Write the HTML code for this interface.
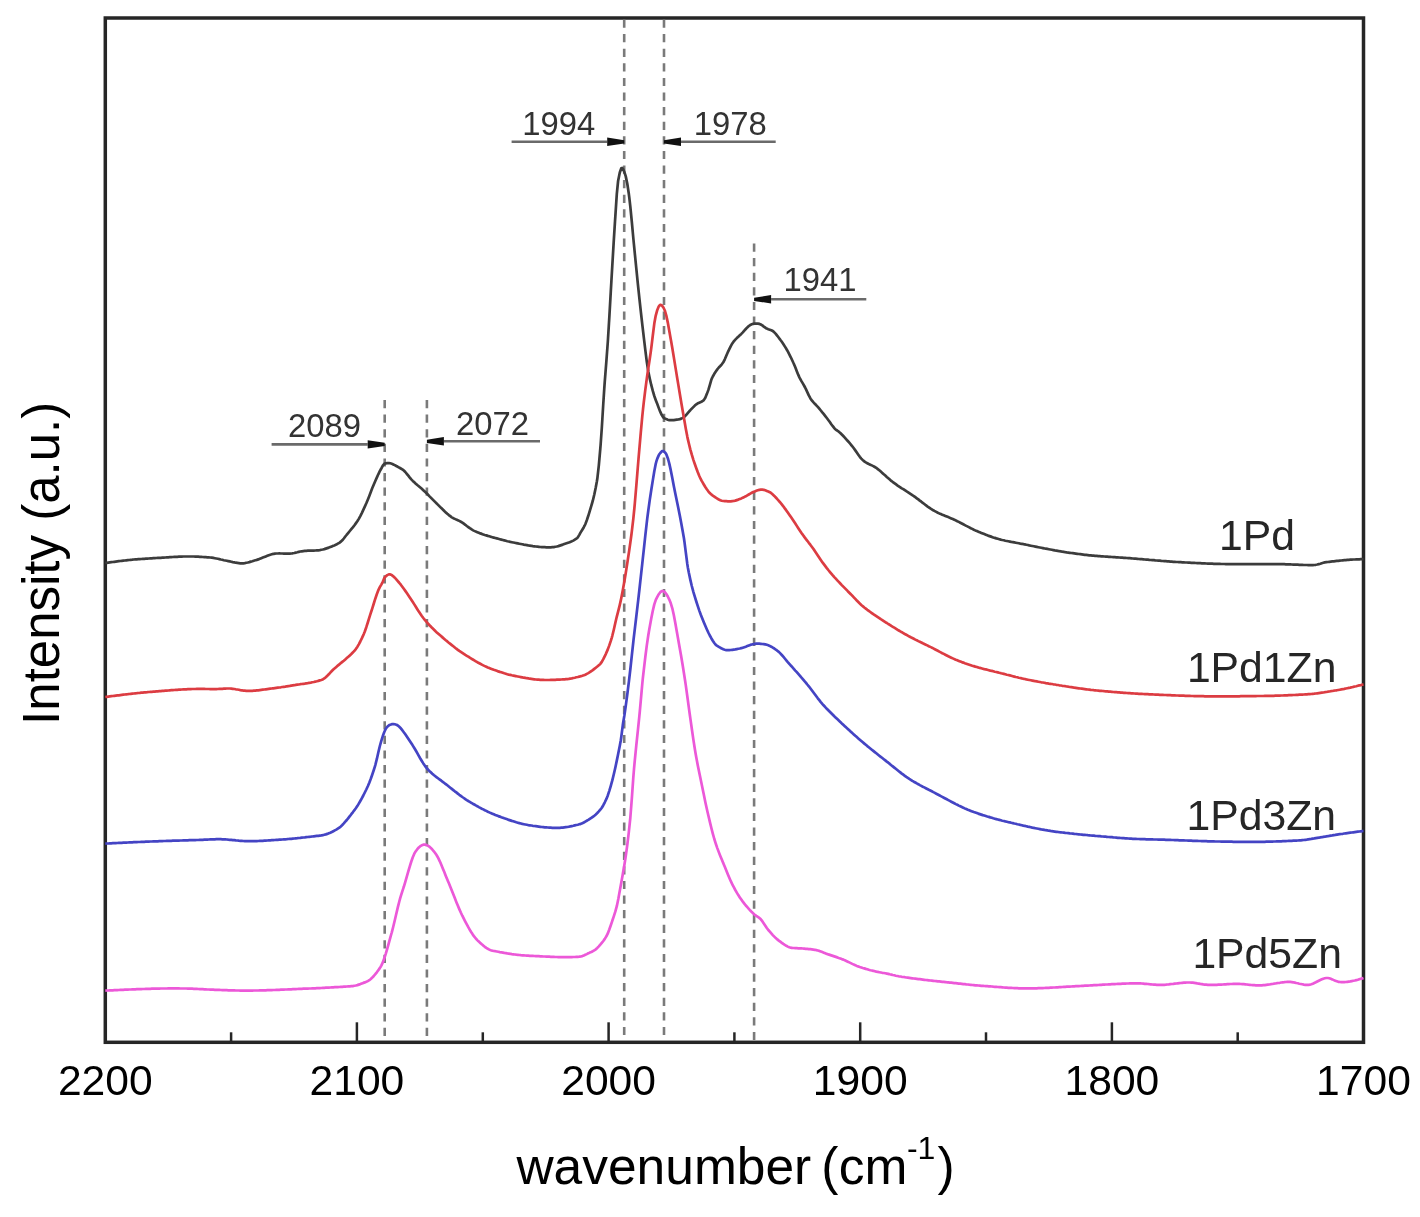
<!DOCTYPE html>
<html><head><meta charset="utf-8"><title>IR spectra</title>
<style>html,body{margin:0;padding:0;background:#fff;} svg{display:block;}</style></head>
<body>
<svg width="1420" height="1217" viewBox="0 0 1420 1217">
<rect width="1420" height="1217" fill="#fff"/>
<rect x="105.3" y="18" width="1258.2" height="1024.3" fill="none" stroke="#262626" stroke-width="3.5"/>
<line x1="105.3" y1="1022.3" x2="105.3" y2="1042.3" stroke="#262626" stroke-width="2.5"/>
<line x1="231.1" y1="1032.3" x2="231.1" y2="1042.3" stroke="#262626" stroke-width="2.5"/>
<line x1="356.9" y1="1022.3" x2="356.9" y2="1042.3" stroke="#262626" stroke-width="2.5"/>
<line x1="482.8" y1="1032.3" x2="482.8" y2="1042.3" stroke="#262626" stroke-width="2.5"/>
<line x1="608.6" y1="1022.3" x2="608.6" y2="1042.3" stroke="#262626" stroke-width="2.5"/>
<line x1="734.4" y1="1032.3" x2="734.4" y2="1042.3" stroke="#262626" stroke-width="2.5"/>
<line x1="860.2" y1="1022.3" x2="860.2" y2="1042.3" stroke="#262626" stroke-width="2.5"/>
<line x1="986.0" y1="1032.3" x2="986.0" y2="1042.3" stroke="#262626" stroke-width="2.5"/>
<line x1="1111.9" y1="1022.3" x2="1111.9" y2="1042.3" stroke="#262626" stroke-width="2.5"/>
<line x1="1237.7" y1="1032.3" x2="1237.7" y2="1042.3" stroke="#262626" stroke-width="2.5"/>
<line x1="1363.5" y1="1022.3" x2="1363.5" y2="1042.3" stroke="#262626" stroke-width="2.5"/>
<text x="105.3" y="1095.2" text-anchor="middle" font-size="42.6" font-family="'Liberation Sans', Arial, sans-serif" fill="#000">2200</text>
<text x="356.9" y="1095.2" text-anchor="middle" font-size="42.6" font-family="'Liberation Sans', Arial, sans-serif" fill="#000">2100</text>
<text x="608.6" y="1095.2" text-anchor="middle" font-size="42.6" font-family="'Liberation Sans', Arial, sans-serif" fill="#000">2000</text>
<text x="860.2" y="1095.2" text-anchor="middle" font-size="42.6" font-family="'Liberation Sans', Arial, sans-serif" fill="#000">1900</text>
<text x="1111.9" y="1095.2" text-anchor="middle" font-size="42.6" font-family="'Liberation Sans', Arial, sans-serif" fill="#000">1800</text>
<text x="1363.5" y="1095.2" text-anchor="middle" font-size="42.6" font-family="'Liberation Sans', Arial, sans-serif" fill="#000">1700</text>
<line x1="384.7" y1="400" x2="384.7" y2="1041" stroke="#7a7a7a" stroke-width="2.6" stroke-dasharray="8.2 6.4"/>
<line x1="426.9" y1="400" x2="426.9" y2="1041" stroke="#7a7a7a" stroke-width="2.6" stroke-dasharray="8.2 6.4"/>
<line x1="624.2" y1="19.5" x2="624.2" y2="1041" stroke="#7a7a7a" stroke-width="2.6" stroke-dasharray="8.2 6.4"/>
<line x1="664.0" y1="19.5" x2="664.0" y2="1041" stroke="#7a7a7a" stroke-width="2.6" stroke-dasharray="8.2 6.4"/>
<line x1="754.1" y1="243.5" x2="754.1" y2="1041" stroke="#7a7a7a" stroke-width="2.6" stroke-dasharray="8.2 6.4"/>
<path d="M105.3 563.0 L106.8 562.8 L108.3 562.6 L109.8 562.4 L111.3 562.2 L112.8 562.0 L114.3 561.8 L115.8 561.6 L117.3 561.4 L118.8 561.2 L120.3 561.0 L121.8 560.8 L123.3 560.6 L124.8 560.5 L126.3 560.3 L127.8 560.1 L129.3 560.0 L130.8 559.8 L132.3 559.7 L133.8 559.5 L135.3 559.4 L136.6 559.3 L136.8 559.3 L138.3 559.2 L139.8 559.1 L141.3 559.0 L142.8 558.9 L144.3 558.8 L145.8 558.7 L147.3 558.6 L148.8 558.5 L150.3 558.4 L151.8 558.3 L153.3 558.2 L154.8 558.1 L156.3 558.0 L157.8 557.9 L159.3 557.8 L160.0 557.8 L160.8 557.8 L162.3 557.7 L163.8 557.6 L165.3 557.5 L166.8 557.4 L168.3 557.3 L169.8 557.2 L171.3 557.1 L172.8 557.0 L174.3 556.9 L175.8 556.8 L177.3 556.8 L178.8 556.7 L180.3 556.6 L180.6 556.6 L181.8 556.6 L183.3 556.5 L184.8 556.5 L186.3 556.5 L187.8 556.5 L189.3 556.5 L190.8 556.5 L192.3 556.5 L193.8 556.5 L195.3 556.6 L196.8 556.6 L198.3 556.7 L199.8 556.8 L201.3 556.9 L202.8 557.0 L204.3 557.1 L205.8 557.2 L207.3 557.3 L208.8 557.4 L209.9 557.5 L210.3 557.5 L211.8 557.7 L213.3 557.9 L214.8 558.2 L216.3 558.5 L217.8 558.8 L219.3 559.1 L220.8 559.5 L222.3 559.8 L223.8 560.2 L225.3 560.5 L226.8 560.8 L228.2 561.1 L228.3 561.1 L229.8 561.4 L231.3 561.7 L232.8 562.1 L234.3 562.4 L235.8 562.7 L237.3 562.9 L238.8 563.1 L240.3 563.3 L241.0 563.3 L241.8 563.3 L243.3 563.3 L244.8 563.1 L246.3 562.8 L247.8 562.5 L249.3 562.1 L250.8 561.6 L252.3 561.2 L253.8 560.7 L255.3 560.3 L255.7 560.2 L256.8 559.9 L258.3 559.4 L259.8 558.8 L261.3 558.2 L262.8 557.6 L264.3 557.0 L265.8 556.4 L267.3 555.8 L268.8 555.2 L270.3 554.7 L271.8 554.3 L273.3 553.9 L274.0 553.8 L274.8 553.7 L276.3 553.5 L277.8 553.5 L279.3 553.4 L280.8 553.5 L282.3 553.5 L283.8 553.6 L285.3 553.7 L286.8 553.7 L288.3 553.7 L289.8 553.7 L291.3 553.5 L292.3 553.4 L292.8 553.3 L294.3 553.0 L295.8 552.6 L297.3 552.3 L298.8 551.9 L300.3 551.5 L301.5 551.3 L301.8 551.3 L303.3 551.1 L304.8 550.9 L306.3 550.8 L307.8 550.7 L309.3 550.7 L310.8 550.7 L312.3 550.6 L313.8 550.6 L315.3 550.5 L316.8 550.4 L318.3 550.3 L319.8 550.1 L321.3 549.8 L322.8 549.5 L324.3 549.1 L325.8 548.6 L327.3 548.1 L328.8 547.6 L330.3 547.0 L331.8 546.4 L333.3 545.8 L334.4 545.4 L334.8 545.2 L336.3 544.6 L337.8 543.7 L339.3 542.8 L340.8 541.7 L341.0 541.5 L342.3 540.3 L343.8 538.5 L345.3 536.5 L346.5 535.0 L346.8 534.6 L348.3 532.8 L349.8 531.0 L351.3 529.2 L352.8 527.4 L354.3 525.5 L355.8 523.4 L357.3 521.3 L357.6 520.8 L358.8 518.9 L360.3 516.1 L361.8 513.1 L363.3 509.9 L364.8 506.6 L366.2 503.5 L366.3 503.3 L367.8 499.7 L369.3 495.9 L370.8 492.0 L372.3 488.1 L373.6 485.0 L373.8 484.5 L375.3 481.0 L376.8 477.6 L378.3 474.3 L379.8 471.2 L381.0 469.0 L381.3 468.5 L382.8 465.7 L384.3 463.8 L384.7 463.6 L385.8 463.3 L387.3 463.1 L388.8 463.0 L390.3 463.3 L391.8 463.7 L392.0 463.8 L393.3 464.4 L394.8 465.1 L396.3 466.0 L397.8 466.8 L399.3 467.7 L399.5 467.8 L400.8 468.5 L402.3 469.4 L403.4 470.2 L403.8 470.5 L405.3 472.0 L406.8 473.8 L408.3 475.7 L409.8 477.6 L411.3 479.4 L412.0 480.1 L412.8 480.9 L414.3 482.3 L415.8 483.7 L417.3 485.0 L418.8 486.2 L420.3 487.5 L421.8 488.8 L423.3 490.2 L424.4 491.2 L424.8 491.6 L426.3 493.0 L427.8 494.5 L429.3 496.1 L430.8 497.6 L432.3 499.1 L433.8 500.6 L435.3 502.1 L436.7 503.5 L436.8 503.6 L438.3 505.1 L439.8 506.6 L441.3 508.1 L442.8 509.5 L444.3 511.0 L445.8 512.4 L447.3 513.8 L448.8 515.1 L450.3 516.2 L451.5 517.1 L451.8 517.3 L453.3 518.2 L454.8 518.9 L456.3 519.6 L457.8 520.2 L459.3 520.9 L460.8 521.7 L461.3 522.0 L462.3 522.6 L463.8 523.7 L465.3 524.8 L466.8 526.0 L468.3 527.1 L469.8 528.2 L471.3 529.2 L472.8 530.1 L473.7 530.6 L474.3 530.9 L475.8 531.6 L477.3 532.2 L478.8 532.8 L480.3 533.4 L481.8 533.9 L483.3 534.5 L484.8 535.0 L486.3 535.4 L487.8 535.9 L489.3 536.3 L490.8 536.8 L490.9 536.8 L492.3 537.2 L493.8 537.6 L495.3 538.0 L496.8 538.4 L498.3 538.8 L499.8 539.2 L501.3 539.6 L502.8 540.0 L504.3 540.4 L505.8 540.8 L507.3 541.2 L508.8 541.5 L510.3 541.9 L511.8 542.2 L513.3 542.5 L514.8 542.8 L515.6 543.0 L516.3 543.1 L517.8 543.4 L519.3 543.7 L520.8 544.0 L522.3 544.3 L523.8 544.6 L525.3 544.8 L526.8 545.1 L528.3 545.4 L529.8 545.6 L531.3 545.8 L532.8 546.1 L534.3 546.3 L535.8 546.5 L537.3 546.6 L537.8 546.7 L538.8 546.8 L540.3 547.0 L541.8 547.1 L543.3 547.2 L544.8 547.2 L546.3 547.3 L547.8 547.3 L549.3 547.3 L550.8 547.3 L552.3 547.2 L552.5 547.2 L553.8 547.1 L555.3 546.8 L556.8 546.5 L558.3 546.1 L559.8 545.6 L561.3 545.1 L562.8 544.6 L564.3 544.0 L565.8 543.5 L567.3 543.0 L568.8 542.5 L570.3 541.9 L571.8 541.3 L573.3 540.6 L574.8 539.7 L576.3 538.7 L577.2 538.0 L577.8 537.4 L579.3 534.8 L580.5 532.6 L580.8 532.1 L582.3 529.7 L583.8 527.2 L584.6 525.7 L585.3 524.2 L586.8 520.3 L588.3 515.8 L589.8 510.9 L591.3 505.9 L592.0 503.5 L592.8 500.7 L594.3 494.5 L595.8 487.3 L596.9 481.3 L597.3 478.8 L598.8 465.6 L600.3 448.6 L600.6 445.0 L601.8 428.0 L603.3 403.5 L604.3 388.1 L604.8 381.2 L606.3 362.1 L607.8 342.0 L607.9 340.5 L609.3 317.6 L610.8 291.3 L611.4 281.0 L612.3 265.7 L613.8 240.3 L615.0 221.4 L615.3 216.9 L616.8 194.2 L618.1 181.0 L618.3 179.9 L619.8 172.5 L621.3 168.2 L622.1 167.9 L622.8 168.6 L624.3 171.8 L625.7 176.2 L625.8 176.6 L627.3 183.8 L628.8 193.8 L629.3 197.6 L630.3 206.3 L631.8 221.7 L633.3 238.0 L634.0 245.2 L634.8 253.3 L636.3 268.4 L637.8 283.3 L638.8 292.9 L639.3 297.6 L640.8 311.4 L642.3 324.7 L643.6 335.7 L643.8 337.3 L645.3 349.9 L646.8 361.8 L648.3 371.5 L648.5 372.5 L649.8 378.7 L651.3 385.2 L652.8 390.9 L654.3 396.0 L655.8 400.2 L656.1 401.0 L657.3 404.1 L658.8 408.1 L660.3 411.9 L661.8 415.1 L663.3 417.4 L664.3 418.2 L664.8 418.4 L666.3 419.1 L667.8 419.7 L669.3 420.1 L670.8 420.2 L671.0 420.2 L672.3 420.2 L673.8 420.1 L675.3 419.9 L676.8 419.7 L678.3 419.5 L679.8 419.1 L681.3 418.6 L682.8 417.9 L682.9 417.9 L684.3 416.9 L685.8 415.4 L687.3 413.6 L688.8 411.8 L690.0 410.5 L690.3 410.2 L691.8 408.6 L693.3 407.1 L694.8 405.6 L695.8 404.7 L696.3 404.3 L697.8 403.3 L699.3 402.7 L700.8 402.1 L702.3 401.3 L703.8 400.1 L705.3 397.7 L706.8 394.1 L708.3 390.1 L708.4 389.8 L709.8 385.1 L711.3 379.9 L711.9 378.3 L712.8 376.5 L714.3 373.8 L715.8 371.5 L717.3 369.4 L717.6 369.0 L718.8 367.5 L720.3 366.0 L721.8 364.3 L723.3 362.3 L723.4 362.1 L724.8 359.3 L726.3 355.7 L727.8 352.2 L728.0 351.8 L729.3 349.1 L730.8 346.1 L732.3 343.4 L733.7 341.4 L733.8 341.3 L735.3 339.6 L736.8 338.1 L738.3 336.7 L739.8 335.3 L741.3 333.9 L741.8 333.4 L742.8 332.4 L744.3 330.7 L745.8 329.0 L747.3 327.4 L748.8 326.0 L749.8 325.3 L750.3 325.0 L751.8 324.3 L753.3 323.8 L754.4 323.6 L754.8 323.6 L756.3 323.5 L757.8 323.6 L759.3 323.9 L760.2 324.2 L760.8 324.5 L762.3 325.4 L763.8 326.6 L765.3 327.7 L766.0 328.2 L766.8 328.6 L768.3 329.2 L769.8 329.7 L771.3 330.2 L772.8 331.0 L772.9 331.1 L774.3 332.3 L775.8 333.9 L777.3 335.8 L778.8 337.8 L779.8 339.1 L780.3 339.8 L781.8 341.8 L783.3 344.0 L784.8 346.4 L786.3 348.8 L786.7 349.5 L787.8 351.4 L789.3 354.3 L790.8 357.3 L792.3 360.5 L793.6 363.3 L793.8 363.7 L795.3 367.3 L796.8 371.2 L798.3 374.9 L799.3 377.1 L799.8 378.1 L801.3 380.9 L802.8 383.4 L804.3 386.0 L805.1 387.5 L805.8 388.9 L807.3 392.1 L808.8 395.4 L810.3 398.2 L810.8 399.0 L811.8 400.4 L813.3 402.2 L814.8 403.8 L816.3 405.3 L817.8 406.9 L818.9 408.2 L819.3 408.7 L820.8 410.5 L822.3 412.4 L823.8 414.2 L825.3 416.1 L826.8 418.0 L828.1 419.7 L828.3 420.0 L829.8 422.0 L831.3 424.2 L832.8 426.2 L834.3 428.1 L835.0 428.9 L835.8 429.6 L837.3 430.7 L838.8 431.7 L840.0 432.7 L840.3 433.0 L841.8 434.5 L843.3 436.0 L844.8 437.6 L846.3 439.3 L847.8 441.0 L849.3 442.7 L850.8 444.5 L851.5 445.3 L852.3 446.3 L853.8 448.3 L855.3 450.4 L856.8 452.6 L858.3 454.7 L859.8 456.8 L861.3 458.6 L862.8 460.1 L863.0 460.3 L864.3 461.4 L865.8 462.4 L867.3 463.2 L868.8 464.0 L870.3 464.7 L871.8 465.4 L873.3 466.1 L874.8 467.0 L876.3 467.9 L876.8 468.3 L877.8 469.1 L879.3 470.3 L880.8 471.6 L882.3 472.9 L883.8 474.3 L885.3 475.6 L886.8 477.0 L888.3 478.3 L889.8 479.6 L891.3 480.9 L892.8 482.0 L892.9 482.1 L894.3 483.1 L895.8 484.2 L897.3 485.3 L898.8 486.3 L900.3 487.3 L901.8 488.3 L903.3 489.2 L904.8 490.2 L906.3 491.2 L907.8 492.1 L909.3 493.1 L910.8 494.1 L912.3 495.1 L913.6 496.0 L913.8 496.1 L915.3 497.2 L916.8 498.3 L918.3 499.4 L919.8 500.6 L921.3 501.7 L922.8 502.9 L924.3 504.0 L925.8 505.2 L927.3 506.3 L928.8 507.3 L930.3 508.4 L931.8 509.3 L933.3 510.3 L934.4 510.9 L934.8 511.1 L936.3 511.9 L937.8 512.7 L939.3 513.4 L940.8 514.0 L942.3 514.7 L943.8 515.3 L945.3 515.9 L946.8 516.5 L948.3 517.1 L949.8 517.8 L951.3 518.4 L952.8 519.0 L954.3 519.7 L955.1 520.1 L955.8 520.4 L957.3 521.2 L958.8 521.9 L960.3 522.7 L961.8 523.5 L963.3 524.3 L964.8 525.1 L966.3 525.9 L967.8 526.6 L969.3 527.4 L970.8 528.2 L972.3 528.9 L973.8 529.7 L975.3 530.4 L976.8 531.0 L978.1 531.6 L978.3 531.7 L979.8 532.3 L981.3 532.9 L982.8 533.5 L984.3 534.1 L985.8 534.7 L987.3 535.3 L988.8 535.9 L990.3 536.4 L991.8 536.9 L993.3 537.5 L994.8 537.9 L996.3 538.4 L997.8 538.8 L999.3 539.2 L1000.8 539.6 L1001.1 539.7 L1002.3 540.0 L1003.8 540.3 L1005.3 540.7 L1006.8 541.0 L1008.3 541.3 L1009.8 541.6 L1011.3 541.9 L1012.8 542.1 L1014.3 542.4 L1015.8 542.7 L1017.3 543.0 L1018.8 543.3 L1020.3 543.6 L1021.8 543.8 L1023.3 544.1 L1024.1 544.3 L1024.8 544.4 L1026.3 544.7 L1027.8 545.0 L1029.3 545.4 L1030.8 545.7 L1032.3 546.0 L1033.8 546.3 L1035.3 546.6 L1036.8 546.9 L1038.3 547.2 L1039.8 547.5 L1041.3 547.8 L1042.8 548.1 L1044.3 548.4 L1045.0 548.5 L1045.8 548.7 L1047.3 548.9 L1048.8 549.2 L1050.3 549.5 L1051.8 549.8 L1053.3 550.1 L1054.8 550.4 L1056.3 550.6 L1057.8 550.9 L1059.3 551.2 L1060.8 551.4 L1062.3 551.7 L1063.8 551.9 L1065.3 552.2 L1066.3 552.3 L1066.8 552.4 L1068.3 552.6 L1069.8 552.8 L1071.3 553.0 L1072.8 553.2 L1074.3 553.4 L1075.8 553.6 L1077.3 553.8 L1078.8 554.0 L1080.3 554.2 L1081.8 554.4 L1083.3 554.6 L1084.8 554.8 L1086.3 554.9 L1087.8 555.1 L1089.3 555.3 L1090.8 555.4 L1092.3 555.6 L1093.8 555.7 L1095.0 555.8 L1095.3 555.8 L1096.8 555.9 L1098.3 556.1 L1099.8 556.2 L1101.3 556.3 L1102.8 556.4 L1104.3 556.5 L1105.8 556.6 L1107.3 556.7 L1108.8 556.8 L1110.3 556.9 L1111.8 557.0 L1113.3 557.1 L1114.8 557.2 L1116.3 557.3 L1117.8 557.4 L1119.3 557.5 L1120.8 557.6 L1122.3 557.7 L1123.8 557.8 L1125.3 557.9 L1126.8 558.0 L1128.3 558.1 L1129.4 558.2 L1129.8 558.2 L1131.3 558.3 L1132.8 558.5 L1134.3 558.6 L1135.8 558.7 L1137.3 558.8 L1138.8 559.0 L1140.3 559.1 L1141.8 559.2 L1143.3 559.3 L1144.8 559.5 L1146.3 559.6 L1147.8 559.7 L1149.3 559.9 L1150.8 560.0 L1152.3 560.1 L1153.8 560.2 L1155.3 560.4 L1156.8 560.5 L1158.3 560.6 L1159.8 560.7 L1161.3 560.9 L1162.8 561.0 L1164.3 561.1 L1165.8 561.2 L1167.3 561.3 L1168.8 561.4 L1170.3 561.6 L1171.8 561.7 L1173.3 561.8 L1174.8 561.9 L1176.3 562.0 L1177.8 562.0 L1178.8 562.1 L1179.3 562.1 L1180.8 562.2 L1182.3 562.3 L1183.8 562.4 L1185.3 562.5 L1186.8 562.5 L1188.3 562.6 L1189.8 562.7 L1191.3 562.8 L1192.8 562.9 L1194.3 562.9 L1195.8 563.0 L1197.3 563.1 L1198.8 563.2 L1200.3 563.2 L1201.8 563.3 L1203.3 563.4 L1204.8 563.4 L1206.3 563.5 L1207.8 563.6 L1209.3 563.6 L1210.8 563.7 L1212.3 563.7 L1213.8 563.8 L1215.3 563.8 L1216.8 563.9 L1218.3 563.9 L1219.8 563.9 L1221.3 564.0 L1222.8 564.0 L1224.3 564.0 L1225.8 564.1 L1227.3 564.1 L1228.1 564.1 L1228.8 564.1 L1230.3 564.1 L1231.8 564.1 L1233.3 564.1 L1234.8 564.2 L1236.3 564.2 L1237.8 564.2 L1239.3 564.2 L1240.8 564.2 L1242.3 564.2 L1243.8 564.2 L1245.3 564.2 L1246.8 564.2 L1248.3 564.2 L1249.8 564.2 L1251.3 564.2 L1252.8 564.1 L1254.3 564.1 L1255.8 564.1 L1257.3 564.1 L1258.8 564.1 L1260.3 564.1 L1261.8 564.1 L1263.3 564.1 L1264.8 564.1 L1266.3 564.1 L1267.8 564.1 L1269.3 564.1 L1270.8 564.1 L1272.3 564.1 L1273.8 564.1 L1275.3 564.1 L1276.8 564.1 L1277.4 564.1 L1278.3 564.1 L1279.8 564.1 L1281.3 564.1 L1282.8 564.2 L1284.3 564.2 L1285.8 564.3 L1287.3 564.3 L1288.8 564.4 L1290.3 564.4 L1291.8 564.5 L1293.3 564.6 L1294.8 564.6 L1296.3 564.7 L1297.8 564.7 L1299.3 564.8 L1300.8 564.9 L1302.3 564.9 L1303.8 565.0 L1305.3 565.0 L1306.8 565.0 L1308.3 565.1 L1309.8 565.1 L1311.3 565.1 L1312.8 565.1 L1312.9 565.1 L1314.3 565.0 L1315.8 564.8 L1317.3 564.5 L1318.8 564.1 L1320.3 563.7 L1321.8 563.2 L1323.3 562.8 L1324.8 562.4 L1326.3 562.2 L1326.7 562.1 L1327.8 562.0 L1329.3 561.8 L1330.8 561.6 L1332.3 561.4 L1333.8 561.3 L1335.3 561.1 L1336.8 560.9 L1338.3 560.8 L1339.8 560.6 L1341.3 560.5 L1342.8 560.3 L1344.3 560.2 L1345.8 560.1 L1347.3 559.9 L1348.8 559.8 L1350.3 559.7 L1351.8 559.6 L1353.3 559.5 L1354.8 559.5 L1356.3 559.4 L1357.8 559.3 L1359.3 559.3 L1360.8 559.2 L1362.3 559.2 L1363.5 559.2" fill="none" stroke="#3c3c3c" stroke-width="2.7" stroke-linejoin="round"/>
<path d="M105.3 697.0 L106.8 696.8 L108.3 696.6 L109.8 696.4 L111.3 696.2 L112.8 696.0 L114.3 695.8 L115.8 695.6 L117.3 695.4 L118.8 695.3 L120.3 695.1 L121.8 694.9 L123.3 694.7 L124.8 694.5 L126.3 694.3 L127.8 694.2 L129.3 694.0 L130.8 693.8 L132.3 693.6 L133.8 693.5 L135.3 693.3 L136.8 693.2 L138.3 693.0 L139.8 692.9 L141.3 692.7 L142.8 692.6 L144.3 692.4 L145.8 692.3 L147.3 692.2 L148.8 692.0 L149.3 692.0 L150.3 691.9 L151.8 691.8 L153.3 691.7 L154.8 691.6 L156.3 691.4 L157.8 691.3 L159.3 691.2 L160.8 691.1 L162.3 690.9 L163.8 690.8 L165.3 690.7 L166.8 690.6 L168.3 690.5 L169.8 690.3 L171.3 690.2 L172.8 690.1 L174.3 690.0 L175.8 689.9 L177.3 689.8 L178.8 689.7 L180.3 689.6 L181.8 689.5 L183.3 689.4 L184.8 689.4 L186.3 689.3 L187.8 689.2 L189.3 689.2 L190.8 689.1 L192.3 689.0 L193.8 689.0 L195.3 689.0 L196.8 688.9 L198.3 688.9 L198.6 688.9 L199.8 688.9 L201.3 688.9 L202.8 688.9 L204.3 688.9 L205.8 689.0 L207.3 689.0 L208.8 689.0 L210.3 689.1 L211.8 689.1 L213.3 689.1 L214.8 689.1 L215.0 689.1 L216.3 689.1 L217.8 689.0 L219.3 688.9 L220.8 688.8 L222.3 688.8 L223.8 688.7 L225.3 688.6 L226.8 688.5 L228.2 688.5 L228.3 688.5 L229.8 688.5 L231.3 688.6 L232.8 688.8 L234.3 689.0 L235.8 689.3 L237.3 689.5 L238.8 689.8 L240.3 690.1 L241.8 690.3 L243.3 690.6 L244.8 690.7 L246.3 690.9 L247.8 690.9 L247.9 690.9 L249.3 690.9 L250.8 690.8 L252.3 690.8 L253.8 690.7 L255.3 690.6 L256.8 690.4 L258.3 690.3 L259.8 690.1 L261.3 689.9 L262.8 689.7 L264.3 689.5 L265.8 689.3 L267.3 689.1 L268.8 688.9 L270.3 688.7 L271.8 688.5 L272.5 688.4 L273.3 688.3 L274.8 688.1 L276.3 687.9 L277.8 687.7 L279.3 687.5 L280.8 687.3 L282.3 687.0 L283.8 686.8 L285.3 686.6 L286.8 686.3 L288.3 686.1 L289.8 685.9 L291.3 685.6 L292.8 685.4 L294.3 685.2 L295.8 684.9 L297.2 684.7 L297.3 684.7 L298.8 684.5 L300.3 684.2 L301.8 684.0 L303.3 683.8 L304.8 683.6 L306.3 683.3 L307.8 683.1 L309.3 682.8 L310.8 682.6 L312.3 682.3 L313.8 682.0 L315.3 681.6 L316.8 681.3 L318.3 680.9 L319.8 680.4 L321.3 680.0 L321.8 679.8 L322.8 679.4 L324.3 678.4 L325.8 677.2 L327.3 675.8 L328.8 674.3 L330.3 672.6 L331.8 671.0 L333.3 669.5 L334.2 668.7 L334.8 668.2 L336.3 666.9 L337.8 665.6 L339.3 664.4 L340.8 663.1 L342.3 661.9 L343.8 660.7 L345.3 659.4 L346.8 658.1 L348.3 656.8 L349.8 655.4 L351.3 654.0 L352.8 652.5 L353.9 651.4 L354.3 651.0 L355.8 649.1 L357.3 646.9 L358.8 644.3 L360.3 641.5 L361.8 638.4 L363.3 635.1 L363.7 634.2 L364.8 631.5 L366.3 627.2 L367.8 622.5 L369.3 617.6 L370.8 612.9 L371.1 612.0 L372.3 608.3 L373.8 603.5 L375.3 598.7 L376.8 594.3 L378.3 590.3 L378.5 589.8 L379.8 587.1 L381.3 584.6 L382.5 582.4 L382.8 581.7 L384.3 578.1 L384.7 577.5 L385.8 576.3 L387.3 575.1 L388.8 574.4 L390.3 574.4 L391.0 574.7 L391.8 575.2 L393.3 576.3 L394.8 577.7 L396.3 579.3 L397.8 581.1 L399.0 582.5 L399.3 582.9 L400.8 584.7 L402.3 586.7 L403.8 588.8 L405.3 590.9 L406.8 593.1 L408.3 595.3 L409.6 597.2 L409.8 597.5 L411.3 599.7 L412.8 602.0 L414.3 604.4 L415.8 606.8 L417.3 609.2 L418.8 611.6 L420.3 613.8 L421.8 616.0 L423.3 618.0 L424.4 619.4 L424.8 619.9 L426.3 621.6 L427.8 623.3 L429.3 625.0 L430.8 626.5 L432.3 628.1 L433.8 629.5 L435.3 631.0 L436.8 632.4 L438.3 633.7 L439.8 635.0 L441.3 636.3 L441.6 636.6 L442.8 637.6 L444.3 638.9 L445.8 640.2 L447.3 641.4 L448.8 642.7 L450.3 643.9 L451.8 645.1 L453.3 646.3 L454.8 647.5 L456.3 648.7 L457.8 649.8 L459.3 650.9 L460.8 651.9 L462.3 652.9 L463.8 653.9 L465.3 654.9 L466.8 655.8 L468.3 656.7 L469.8 657.7 L471.3 658.6 L472.8 659.5 L474.3 660.4 L475.8 661.3 L477.3 662.2 L478.8 663.0 L480.3 663.8 L481.8 664.6 L483.3 665.4 L484.8 666.1 L486.3 666.8 L487.8 667.5 L489.3 668.1 L490.8 668.7 L490.9 668.7 L492.3 669.2 L493.8 669.8 L495.3 670.3 L496.8 670.8 L498.3 671.4 L499.8 671.9 L501.3 672.3 L502.8 672.8 L504.3 673.3 L505.8 673.7 L507.3 674.2 L508.8 674.6 L510.3 674.9 L511.8 675.3 L513.3 675.6 L514.8 675.9 L515.6 676.1 L516.3 676.2 L517.8 676.5 L519.3 676.8 L520.8 677.1 L522.3 677.4 L523.8 677.7 L525.3 677.9 L526.8 678.2 L528.3 678.4 L529.8 678.7 L531.3 678.9 L532.8 679.1 L534.3 679.3 L535.8 679.5 L537.3 679.6 L538.8 679.7 L540.2 679.8 L540.3 679.8 L541.8 679.9 L543.3 679.9 L544.8 680.0 L546.3 680.0 L547.8 680.0 L549.3 680.0 L550.8 679.9 L552.3 679.9 L553.8 679.9 L555.3 679.8 L556.8 679.7 L558.3 679.7 L559.8 679.6 L561.3 679.5 L562.8 679.4 L564.3 679.3 L564.9 679.3 L565.8 679.2 L567.3 679.1 L568.8 678.9 L570.3 678.6 L571.8 678.4 L573.3 678.0 L574.8 677.7 L576.3 677.3 L577.8 677.0 L579.3 676.6 L580.8 676.2 L581.0 676.2 L582.3 675.8 L583.8 675.3 L585.3 674.7 L586.8 673.9 L588.3 673.1 L589.8 672.2 L591.3 671.1 L592.8 670.1 L594.3 668.9 L595.8 667.7 L597.3 666.5 L598.8 665.2 L600.0 664.2 L600.3 663.9 L601.8 661.9 L603.3 659.2 L604.8 656.1 L605.9 653.8 L606.3 652.9 L607.8 649.4 L609.3 645.4 L610.8 640.9 L611.8 637.6 L612.3 635.8 L613.8 629.7 L615.3 623.0 L616.4 618.3 L616.8 616.7 L618.3 610.8 L619.8 604.8 L620.8 600.4 L621.3 598.0 L622.8 590.2 L624.3 581.7 L624.6 580.0 L625.8 572.7 L627.3 563.1 L628.3 556.5 L628.8 553.2 L630.3 542.9 L631.5 534.0 L631.8 531.7 L633.3 518.8 L634.3 509.0 L634.8 503.7 L636.3 485.9 L637.8 467.3 L638.5 459.0 L639.3 449.7 L640.8 432.4 L642.3 416.1 L643.0 409.3 L643.8 402.1 L645.3 389.8 L646.8 378.6 L647.1 376.4 L648.3 368.2 L649.8 358.5 L650.7 352.4 L651.3 347.9 L652.8 335.5 L654.3 323.6 L655.5 316.7 L655.8 315.4 L657.3 309.9 L658.8 306.3 L660.0 305.0 L660.3 304.9 L661.8 305.4 L663.3 307.3 L664.8 310.5 L665.0 311.0 L666.3 315.5 L667.8 322.6 L669.3 330.9 L670.8 339.4 L671.0 340.5 L672.3 348.0 L673.8 357.1 L675.3 366.4 L676.8 375.6 L676.9 376.2 L678.3 384.6 L679.8 393.7 L681.3 402.7 L682.8 411.5 L683.9 417.8 L684.3 420.1 L685.8 428.7 L687.3 436.6 L687.9 439.4 L688.8 443.3 L690.3 449.3 L691.8 454.7 L693.3 459.6 L693.8 461.1 L694.8 464.0 L696.3 468.2 L697.8 472.3 L699.3 476.0 L700.8 479.2 L701.7 480.9 L702.3 481.9 L703.8 484.5 L705.3 487.0 L706.8 489.3 L708.3 491.3 L709.8 493.1 L711.3 494.5 L711.6 494.7 L712.8 495.6 L714.3 496.6 L715.8 497.7 L717.3 498.6 L718.8 499.5 L720.3 500.2 L721.8 500.7 L723.3 501.0 L723.4 501.0 L724.8 501.1 L726.3 501.2 L727.8 501.3 L729.3 501.3 L730.8 501.3 L732.3 501.1 L733.8 500.9 L735.2 500.6 L735.3 500.6 L736.8 500.1 L738.3 499.6 L739.8 499.0 L741.3 498.4 L742.8 497.7 L744.3 497.0 L745.1 496.6 L745.8 496.3 L747.3 495.4 L748.8 494.5 L750.3 493.6 L751.8 492.8 L753.3 492.0 L754.0 491.7 L754.8 491.4 L756.3 490.8 L757.8 490.3 L759.3 489.9 L760.8 489.7 L760.9 489.7 L762.3 489.7 L763.8 489.9 L765.3 490.3 L766.8 490.9 L768.3 491.5 L768.8 491.7 L769.8 492.2 L771.3 493.2 L772.8 494.5 L774.3 495.9 L775.8 497.5 L777.3 499.2 L778.6 500.6 L778.8 500.8 L780.3 502.5 L781.8 504.4 L783.3 506.3 L784.8 508.4 L786.3 510.4 L787.8 512.6 L789.3 514.7 L790.5 516.4 L790.8 516.8 L792.3 519.0 L793.8 521.3 L795.3 523.5 L796.8 525.9 L798.3 528.2 L799.8 530.4 L801.3 532.7 L802.3 534.1 L802.8 534.8 L804.3 536.9 L805.8 538.9 L807.3 540.8 L808.8 542.8 L810.3 544.7 L811.8 546.7 L813.3 548.8 L814.1 549.9 L814.8 550.9 L816.3 553.2 L817.8 555.5 L819.3 557.8 L820.8 560.0 L822.0 561.7 L822.3 562.1 L823.8 564.1 L825.3 566.1 L826.8 568.1 L828.3 570.0 L829.8 571.8 L831.3 573.6 L832.8 575.4 L833.8 576.5 L834.3 577.1 L835.8 578.7 L837.3 580.3 L838.8 581.9 L840.3 583.5 L841.8 585.1 L843.3 586.6 L844.8 588.1 L846.3 589.6 L847.8 591.2 L849.3 592.7 L850.8 594.2 L851.5 594.9 L852.3 595.7 L853.8 597.3 L855.3 598.9 L856.8 600.5 L858.3 602.0 L859.8 603.5 L861.3 604.9 L862.8 606.2 L863.0 606.4 L864.3 607.5 L865.8 608.6 L867.3 609.8 L868.8 610.9 L870.3 612.0 L871.8 613.1 L873.3 614.2 L874.8 615.2 L876.3 616.2 L877.8 617.2 L879.3 618.2 L880.8 619.2 L882.3 620.1 L883.8 621.1 L885.3 622.1 L886.0 622.5 L886.8 623.0 L888.3 624.0 L889.8 624.9 L891.3 625.9 L892.8 626.8 L894.3 627.7 L895.8 628.6 L897.3 629.6 L898.8 630.5 L900.3 631.4 L901.8 632.2 L903.3 633.1 L904.8 634.0 L906.3 634.8 L907.8 635.6 L909.0 636.3 L909.3 636.5 L910.8 637.3 L912.3 638.0 L913.8 638.8 L915.3 639.6 L916.8 640.3 L918.3 641.1 L919.8 641.8 L921.3 642.5 L922.8 643.3 L924.3 644.0 L925.8 644.7 L927.3 645.4 L928.8 646.2 L930.3 646.9 L931.8 647.6 L932.1 647.8 L933.3 648.4 L934.8 649.2 L936.3 650.0 L937.8 650.8 L939.3 651.6 L940.8 652.4 L942.3 653.2 L943.8 653.9 L945.3 654.7 L946.8 655.5 L948.3 656.3 L949.8 657.0 L951.3 657.7 L952.8 658.4 L954.3 659.1 L955.1 659.4 L955.8 659.7 L957.3 660.3 L958.8 660.9 L960.3 661.5 L961.8 662.1 L963.3 662.6 L964.8 663.2 L966.3 663.7 L967.8 664.2 L969.3 664.7 L970.8 665.2 L972.3 665.7 L973.8 666.1 L975.3 666.6 L976.8 667.0 L978.1 667.4 L978.3 667.5 L979.8 667.9 L981.3 668.3 L982.8 668.7 L984.3 669.1 L985.8 669.4 L987.3 669.8 L988.8 670.2 L990.3 670.6 L991.8 670.9 L993.3 671.3 L994.8 671.7 L996.3 672.0 L997.8 672.4 L999.3 672.8 L1000.8 673.1 L1001.1 673.2 L1002.3 673.5 L1003.8 673.9 L1005.3 674.3 L1006.8 674.7 L1008.3 675.0 L1009.8 675.4 L1011.3 675.8 L1012.8 676.2 L1014.3 676.6 L1015.8 677.0 L1017.3 677.3 L1018.8 677.7 L1020.3 678.0 L1021.8 678.4 L1023.3 678.7 L1024.1 678.9 L1024.8 679.0 L1026.3 679.4 L1027.8 679.7 L1029.3 680.0 L1030.8 680.3 L1032.3 680.6 L1033.8 680.9 L1035.3 681.2 L1036.8 681.4 L1038.3 681.7 L1039.8 682.0 L1041.3 682.3 L1042.8 682.5 L1044.3 682.8 L1045.8 683.1 L1047.3 683.3 L1048.8 683.6 L1050.3 683.8 L1051.5 684.0 L1051.8 684.0 L1053.3 684.3 L1054.8 684.5 L1056.3 684.8 L1057.8 685.0 L1059.3 685.3 L1060.8 685.5 L1062.3 685.8 L1063.8 686.0 L1065.3 686.2 L1066.8 686.5 L1068.3 686.7 L1069.8 687.0 L1071.3 687.2 L1072.8 687.4 L1074.3 687.7 L1075.8 687.9 L1077.3 688.1 L1078.8 688.3 L1080.3 688.5 L1081.8 688.7 L1083.3 688.9 L1084.8 689.1 L1086.3 689.3 L1087.8 689.5 L1089.3 689.7 L1090.8 689.9 L1092.3 690.0 L1093.8 690.2 L1095.0 690.3 L1095.3 690.3 L1096.8 690.5 L1098.3 690.6 L1099.8 690.8 L1101.3 690.9 L1102.8 691.0 L1104.3 691.2 L1105.8 691.3 L1107.3 691.4 L1108.8 691.6 L1110.3 691.7 L1111.8 691.8 L1113.3 692.0 L1114.8 692.1 L1116.3 692.2 L1117.8 692.3 L1119.3 692.4 L1120.8 692.6 L1122.3 692.7 L1123.8 692.8 L1125.3 692.9 L1126.8 693.0 L1128.3 693.1 L1129.8 693.2 L1131.3 693.3 L1132.8 693.4 L1134.3 693.5 L1135.8 693.6 L1137.3 693.7 L1138.8 693.8 L1140.3 693.9 L1141.8 693.9 L1143.3 694.0 L1144.8 694.1 L1146.3 694.2 L1147.8 694.2 L1149.2 694.3 L1149.3 694.3 L1150.8 694.4 L1152.3 694.4 L1153.8 694.5 L1155.3 694.6 L1156.8 694.6 L1158.3 694.7 L1159.8 694.8 L1161.3 694.8 L1162.8 694.9 L1164.3 695.0 L1165.8 695.0 L1167.3 695.1 L1168.8 695.2 L1170.3 695.2 L1171.8 695.3 L1173.3 695.3 L1174.8 695.4 L1176.3 695.5 L1177.8 695.5 L1179.3 695.6 L1180.8 695.6 L1182.3 695.7 L1183.8 695.7 L1185.3 695.8 L1186.8 695.8 L1188.3 695.9 L1189.8 695.9 L1191.3 696.0 L1192.8 696.0 L1194.3 696.1 L1195.8 696.1 L1197.3 696.1 L1198.8 696.2 L1200.3 696.2 L1201.8 696.2 L1203.3 696.2 L1204.8 696.3 L1206.3 696.3 L1207.8 696.3 L1208.3 696.3 L1209.3 696.3 L1210.8 696.3 L1212.3 696.3 L1213.8 696.3 L1215.3 696.3 L1216.8 696.3 L1218.3 696.3 L1219.8 696.4 L1221.3 696.4 L1222.8 696.4 L1224.3 696.3 L1225.8 696.3 L1227.3 696.3 L1228.8 696.3 L1230.3 696.3 L1231.8 696.3 L1233.3 696.3 L1234.8 696.3 L1236.3 696.3 L1237.8 696.3 L1239.3 696.3 L1240.8 696.2 L1242.3 696.2 L1243.8 696.2 L1245.3 696.2 L1246.8 696.2 L1248.3 696.2 L1249.8 696.1 L1251.3 696.1 L1252.8 696.1 L1254.3 696.1 L1255.8 696.1 L1257.3 696.0 L1258.8 696.0 L1260.3 696.0 L1261.8 696.0 L1263.3 696.0 L1264.8 695.9 L1266.3 695.9 L1267.5 695.9 L1267.8 695.9 L1269.3 695.9 L1270.8 695.8 L1272.3 695.8 L1273.8 695.8 L1275.3 695.7 L1276.8 695.7 L1278.3 695.6 L1279.8 695.6 L1281.3 695.5 L1282.8 695.5 L1284.3 695.4 L1285.8 695.4 L1287.3 695.3 L1288.8 695.2 L1290.3 695.2 L1291.8 695.1 L1293.3 695.0 L1294.8 695.0 L1296.3 694.9 L1297.8 694.8 L1299.3 694.7 L1300.8 694.6 L1302.3 694.6 L1303.8 694.5 L1305.3 694.4 L1306.8 694.3 L1307.0 694.3 L1308.3 694.2 L1309.8 694.1 L1311.3 694.0 L1312.8 693.8 L1314.3 693.7 L1315.8 693.5 L1317.3 693.3 L1318.8 693.1 L1320.3 692.9 L1321.8 692.7 L1323.3 692.5 L1324.8 692.2 L1326.3 692.0 L1327.8 691.7 L1329.3 691.5 L1330.8 691.2 L1332.3 691.0 L1333.8 690.7 L1335.3 690.5 L1336.5 690.3 L1336.8 690.3 L1338.3 690.0 L1339.8 689.7 L1341.3 689.4 L1342.8 689.2 L1344.3 688.9 L1345.8 688.5 L1347.3 688.2 L1348.8 687.9 L1350.3 687.6 L1351.8 687.2 L1353.3 686.9 L1354.8 686.5 L1356.3 686.2 L1357.8 685.8 L1359.3 685.4 L1360.8 685.1 L1362.3 684.7 L1363.5 684.4" fill="none" stroke="#dc3c42" stroke-width="2.7" stroke-linejoin="round"/>
<path d="M105.3 843.6 L106.8 843.5 L108.3 843.5 L109.8 843.4 L111.3 843.3 L112.8 843.2 L114.3 843.2 L115.8 843.1 L117.3 843.0 L118.8 842.9 L120.3 842.9 L121.8 842.8 L123.3 842.7 L124.8 842.7 L126.3 842.6 L127.8 842.5 L129.3 842.4 L130.8 842.4 L132.3 842.3 L133.8 842.2 L135.3 842.2 L136.8 842.1 L138.3 842.0 L139.8 842.0 L141.3 841.9 L142.8 841.9 L144.3 841.8 L145.8 841.7 L147.3 841.7 L148.8 841.6 L150.3 841.5 L151.8 841.5 L153.3 841.4 L154.8 841.4 L156.3 841.3 L157.8 841.3 L159.2 841.2 L159.3 841.2 L160.8 841.1 L162.3 841.1 L163.8 841.0 L165.3 841.0 L166.8 840.9 L168.3 840.9 L169.8 840.8 L171.3 840.8 L172.8 840.7 L174.3 840.7 L175.8 840.6 L177.3 840.6 L178.8 840.6 L180.3 840.5 L181.8 840.5 L183.3 840.4 L184.8 840.4 L186.3 840.3 L187.8 840.3 L189.3 840.2 L190.8 840.2 L192.3 840.1 L193.8 840.1 L195.3 840.1 L196.8 840.0 L198.3 840.0 L199.8 839.9 L200.0 839.9 L201.3 839.9 L202.8 839.8 L204.3 839.7 L205.8 839.7 L207.3 839.6 L208.8 839.5 L210.3 839.4 L211.8 839.4 L213.3 839.3 L214.8 839.3 L216.3 839.2 L217.8 839.2 L218.3 839.2 L219.3 839.2 L220.8 839.2 L222.3 839.3 L223.8 839.3 L225.3 839.4 L226.8 839.5 L228.3 839.7 L229.8 839.8 L231.3 839.9 L232.8 840.1 L234.3 840.2 L235.8 840.4 L237.3 840.5 L238.8 840.7 L240.3 840.8 L241.8 840.9 L243.3 841.0 L244.8 841.1 L246.3 841.2 L247.8 841.2 L247.9 841.2 L249.3 841.2 L250.8 841.2 L252.3 841.2 L253.8 841.2 L255.3 841.1 L256.8 841.1 L258.3 841.0 L259.8 840.9 L261.3 840.8 L262.8 840.8 L264.3 840.7 L265.8 840.6 L267.3 840.5 L268.8 840.4 L270.3 840.3 L271.8 840.2 L273.3 840.1 L274.8 840.0 L276.3 839.9 L277.5 839.8 L277.8 839.8 L279.3 839.7 L280.8 839.6 L282.3 839.5 L283.8 839.4 L285.3 839.3 L286.8 839.2 L288.3 839.0 L289.8 838.9 L291.3 838.8 L292.8 838.6 L294.3 838.5 L295.8 838.3 L297.3 838.2 L298.8 838.0 L300.3 837.9 L301.8 837.7 L303.3 837.5 L304.8 837.4 L306.3 837.2 L307.8 837.0 L309.3 836.8 L310.8 836.7 L312.3 836.5 L313.8 836.3 L315.3 836.1 L316.8 835.9 L318.3 835.8 L319.8 835.6 L321.3 835.4 L321.9 835.3 L322.8 835.2 L324.3 834.8 L325.8 834.4 L327.3 833.9 L328.8 833.3 L330.3 832.7 L331.8 832.0 L333.3 831.2 L334.8 830.4 L336.3 829.6 L336.7 829.4 L337.8 828.7 L339.3 827.7 L340.8 826.4 L342.3 825.0 L343.8 823.4 L345.3 821.7 L346.8 820.0 L348.3 818.1 L349.8 816.2 L351.3 814.2 L352.8 812.3 L354.3 810.3 L354.4 810.2 L355.8 808.3 L357.3 806.1 L358.8 803.6 L360.3 801.0 L361.8 798.3 L363.3 795.5 L364.8 792.5 L366.3 789.5 L367.8 786.3 L369.3 782.7 L370.8 778.8 L372.3 774.5 L373.8 770.0 L375.1 765.8 L375.3 765.1 L376.8 759.2 L378.3 752.5 L379.8 746.3 L380.0 745.5 L381.3 740.8 L382.8 736.1 L383.0 735.5 L384.3 732.0 L385.8 728.8 L386.0 728.5 L387.3 726.8 L388.8 725.4 L389.5 725.0 L390.3 724.7 L391.8 724.2 L393.0 724.0 L393.3 724.0 L394.8 724.3 L396.3 724.7 L396.5 724.8 L397.8 725.5 L399.3 726.8 L400.0 727.5 L400.8 728.3 L402.3 730.2 L403.8 732.2 L404.0 732.5 L405.3 734.3 L406.8 736.5 L408.3 738.7 L409.8 741.0 L411.3 743.3 L412.5 745.1 L412.8 745.6 L414.3 748.0 L415.8 750.5 L417.3 753.2 L418.8 755.8 L420.3 758.5 L421.8 761.0 L423.3 763.4 L424.8 765.6 L426.3 767.6 L427.3 768.8 L427.8 769.3 L429.3 770.9 L430.8 772.3 L432.3 773.7 L433.8 775.0 L435.3 776.2 L436.8 777.4 L438.3 778.5 L439.8 779.6 L441.3 780.7 L442.8 781.9 L444.3 783.0 L445.1 783.6 L445.8 784.1 L447.3 785.3 L448.8 786.5 L450.3 787.7 L451.8 788.9 L453.3 790.1 L454.8 791.3 L456.3 792.4 L457.8 793.6 L459.3 794.8 L460.8 795.9 L462.3 797.0 L463.8 798.0 L465.3 799.1 L466.8 800.1 L468.3 801.0 L468.8 801.3 L469.8 801.9 L471.3 802.8 L472.8 803.7 L474.3 804.5 L475.8 805.4 L477.3 806.2 L478.8 807.1 L480.3 807.9 L481.8 808.7 L483.3 809.4 L484.8 810.2 L486.3 810.9 L487.8 811.7 L489.3 812.4 L490.8 813.1 L492.3 813.7 L493.8 814.3 L495.3 815.0 L496.8 815.5 L498.3 816.1 L499.8 816.6 L501.3 817.2 L502.8 817.7 L504.3 818.3 L505.8 818.8 L507.3 819.3 L508.8 819.9 L510.3 820.4 L511.8 820.9 L513.3 821.3 L514.8 821.8 L516.3 822.3 L517.8 822.7 L519.3 823.1 L520.8 823.5 L522.3 823.9 L523.8 824.2 L525.3 824.5 L526.8 824.8 L527.9 825.0 L528.3 825.1 L529.8 825.3 L531.3 825.5 L532.8 825.8 L534.3 826.0 L535.8 826.2 L537.3 826.4 L538.8 826.6 L540.3 826.8 L541.8 827.0 L543.3 827.1 L544.8 827.3 L546.3 827.4 L547.8 827.5 L549.3 827.6 L550.8 827.7 L552.3 827.8 L553.8 827.9 L555.3 827.9 L556.8 827.9 L557.5 827.9 L558.3 827.9 L559.8 827.8 L561.3 827.7 L562.8 827.6 L564.3 827.4 L565.8 827.2 L567.3 827.0 L568.8 826.7 L570.3 826.4 L571.8 826.1 L573.3 825.8 L574.8 825.4 L576.3 825.0 L577.8 824.7 L579.3 824.3 L580.0 824.1 L580.8 823.9 L582.3 823.2 L583.8 822.5 L585.3 821.6 L586.8 820.8 L586.9 820.7 L588.3 819.9 L589.8 818.9 L591.3 817.9 L592.8 816.8 L593.8 816.1 L594.3 815.7 L595.8 814.4 L597.3 813.0 L598.8 811.4 L600.3 809.7 L600.7 809.2 L601.8 807.7 L603.3 805.2 L604.8 802.3 L606.3 799.1 L606.4 798.9 L607.8 795.4 L609.3 790.8 L610.8 785.8 L611.0 785.1 L612.3 780.4 L613.8 774.3 L614.5 771.3 L615.3 767.7 L616.8 760.6 L617.9 755.2 L618.3 753.3 L619.8 745.8 L620.8 740.2 L621.3 736.8 L622.8 725.1 L623.1 723.0 L624.3 716.0 L625.8 705.6 L627.3 694.4 L628.8 682.4 L628.9 681.6 L630.3 669.5 L631.8 655.6 L633.3 642.0 L633.5 640.2 L634.8 629.1 L636.3 616.5 L637.8 603.7 L638.1 601.1 L639.3 590.5 L640.8 576.9 L642.3 563.3 L642.7 559.7 L643.8 549.6 L645.3 535.6 L646.8 522.3 L647.3 518.2 L648.3 510.5 L649.8 499.6 L651.3 489.7 L651.9 486.0 L652.8 480.4 L654.3 471.3 L655.8 463.6 L656.5 461.0 L657.3 458.6 L658.8 455.1 L659.5 454.0 L660.3 453.0 L661.8 451.3 L662.5 451.0 L663.3 451.1 L664.8 452.3 L665.5 453.0 L666.3 454.2 L667.8 458.2 L668.2 459.5 L669.3 463.6 L670.8 470.4 L672.3 478.1 L673.8 485.9 L674.7 490.5 L675.3 493.4 L676.8 500.8 L678.3 508.1 L679.8 515.6 L681.3 523.4 L682.8 531.7 L683.9 538.1 L684.3 540.7 L685.8 552.3 L687.3 564.0 L687.9 567.7 L688.8 572.5 L690.3 579.6 L691.8 586.0 L693.3 591.6 L693.8 593.3 L694.8 596.6 L696.3 601.5 L697.8 606.2 L699.3 610.6 L700.8 614.7 L701.7 617.0 L702.3 618.5 L703.8 622.2 L705.3 625.8 L706.8 629.2 L708.3 632.5 L709.8 635.5 L711.3 638.2 L711.6 638.7 L712.8 640.7 L714.3 643.0 L715.8 644.8 L716.8 645.6 L717.3 645.9 L718.8 646.8 L720.3 647.7 L721.8 648.5 L723.3 649.2 L724.8 649.7 L726.3 650.1 L727.8 650.2 L728.3 650.2 L729.3 650.1 L730.8 650.0 L732.3 649.8 L733.8 649.6 L735.3 649.4 L736.8 649.1 L738.3 648.8 L739.8 648.5 L741.3 648.1 L742.1 647.9 L742.8 647.7 L744.3 647.2 L745.8 646.7 L747.3 646.1 L748.8 645.5 L750.3 644.9 L751.8 644.5 L753.3 644.1 L753.6 644.0 L754.8 643.8 L756.3 643.7 L757.8 643.6 L759.3 643.7 L760.8 643.8 L762.3 644.0 L763.8 644.2 L765.2 644.4 L765.3 644.4 L766.8 644.8 L768.3 645.3 L769.8 645.9 L771.3 646.7 L772.8 647.6 L774.3 648.5 L775.8 649.6 L776.7 650.2 L777.3 650.7 L778.8 651.9 L780.3 653.4 L781.8 655.0 L783.3 656.7 L784.8 658.5 L786.3 660.3 L787.8 662.1 L789.3 663.8 L790.5 665.2 L790.8 665.5 L792.3 667.2 L793.8 668.9 L795.3 670.6 L796.8 672.2 L798.3 673.9 L799.8 675.6 L801.3 677.4 L802.8 679.1 L804.3 680.9 L805.8 682.6 L806.6 683.6 L807.3 684.5 L808.8 686.3 L810.3 688.3 L811.8 690.3 L813.3 692.3 L814.8 694.3 L816.3 696.3 L817.8 698.3 L819.3 700.2 L820.8 702.1 L822.3 703.8 L822.7 704.3 L823.8 705.5 L825.3 707.2 L826.8 708.8 L828.3 710.3 L829.8 711.8 L831.3 713.3 L832.8 714.8 L834.3 716.3 L835.8 717.7 L837.3 719.1 L838.8 720.5 L840.3 721.9 L841.1 722.7 L841.8 723.4 L843.3 724.8 L844.8 726.2 L846.3 727.6 L847.8 728.9 L849.3 730.3 L850.8 731.7 L852.3 733.1 L853.8 734.4 L855.3 735.8 L856.8 737.1 L858.3 738.4 L859.8 739.7 L861.3 741.0 L862.8 742.3 L864.1 743.4 L864.3 743.6 L865.8 744.8 L867.3 746.1 L868.8 747.3 L870.3 748.5 L871.8 749.7 L873.3 750.9 L874.8 752.1 L876.3 753.3 L877.8 754.5 L879.3 755.7 L880.8 756.9 L882.3 758.0 L883.8 759.2 L885.3 760.4 L886.8 761.6 L887.1 761.8 L888.3 762.7 L889.8 763.9 L891.3 765.2 L892.8 766.4 L894.3 767.6 L895.8 768.8 L897.3 770.0 L898.8 771.2 L900.3 772.4 L901.8 773.6 L903.3 774.7 L904.8 775.8 L906.3 776.9 L907.8 777.9 L909.3 778.9 L910.8 779.8 L912.3 780.8 L913.8 781.7 L915.3 782.5 L916.8 783.4 L918.3 784.2 L919.8 785.1 L921.3 785.9 L922.8 786.7 L924.3 787.4 L925.8 788.2 L927.3 789.0 L928.8 789.8 L930.3 790.5 L931.8 791.3 L933.3 792.1 L933.9 792.4 L934.8 792.9 L936.3 793.7 L937.8 794.5 L939.3 795.3 L940.8 796.1 L942.3 796.9 L943.8 797.7 L945.3 798.5 L946.8 799.3 L948.3 800.1 L949.8 800.9 L951.3 801.7 L952.8 802.5 L954.3 803.3 L955.8 804.1 L957.3 804.8 L958.8 805.6 L960.3 806.3 L961.8 807.0 L963.3 807.7 L964.8 808.4 L966.3 809.0 L967.8 809.7 L969.3 810.3 L970.8 810.9 L970.9 810.9 L972.3 811.4 L973.8 812.0 L975.3 812.5 L976.8 813.0 L978.3 813.6 L979.8 814.1 L981.3 814.6 L982.8 815.1 L984.3 815.5 L985.8 816.0 L987.3 816.5 L988.8 816.9 L990.3 817.4 L991.8 817.8 L993.3 818.3 L994.8 818.7 L996.3 819.1 L997.8 819.5 L999.3 819.9 L1000.8 820.3 L1002.3 820.7 L1003.8 821.0 L1005.3 821.4 L1006.8 821.7 L1007.9 822.0 L1008.3 822.1 L1009.8 822.4 L1011.3 822.8 L1012.8 823.1 L1014.3 823.5 L1015.8 823.8 L1017.3 824.2 L1018.8 824.5 L1020.3 824.9 L1021.8 825.2 L1023.3 825.6 L1024.8 825.9 L1026.3 826.2 L1027.8 826.6 L1029.3 826.9 L1030.8 827.2 L1032.3 827.6 L1033.8 827.9 L1035.3 828.2 L1036.8 828.5 L1038.3 828.8 L1039.8 829.1 L1041.3 829.4 L1042.8 829.6 L1044.3 829.9 L1045.8 830.2 L1047.3 830.4 L1048.8 830.7 L1050.3 830.9 L1051.8 831.2 L1053.3 831.4 L1054.8 831.6 L1056.3 831.8 L1057.2 831.9 L1057.8 832.0 L1059.3 832.2 L1060.8 832.3 L1062.3 832.5 L1063.8 832.7 L1065.3 832.9 L1066.8 833.0 L1068.3 833.2 L1069.8 833.4 L1071.3 833.5 L1072.8 833.7 L1074.3 833.9 L1075.8 834.0 L1077.3 834.2 L1078.8 834.3 L1080.3 834.5 L1081.8 834.6 L1083.3 834.8 L1084.8 834.9 L1086.3 835.0 L1087.8 835.2 L1089.3 835.3 L1090.8 835.5 L1092.3 835.6 L1093.8 835.7 L1095.3 835.9 L1096.8 836.0 L1098.3 836.1 L1099.8 836.2 L1101.3 836.4 L1102.8 836.5 L1104.3 836.6 L1105.8 836.7 L1106.5 836.8 L1107.3 836.9 L1108.8 837.0 L1110.3 837.1 L1111.8 837.2 L1113.3 837.4 L1114.8 837.5 L1116.3 837.6 L1117.8 837.8 L1119.3 837.9 L1120.8 838.0 L1122.3 838.1 L1123.8 838.2 L1125.3 838.3 L1126.8 838.4 L1128.3 838.5 L1129.8 838.6 L1131.3 838.7 L1132.8 838.8 L1134.3 838.9 L1135.0 838.9 L1135.8 838.9 L1137.3 839.0 L1138.8 839.0 L1140.3 839.1 L1141.8 839.1 L1143.3 839.2 L1144.8 839.2 L1146.3 839.3 L1147.8 839.3 L1149.3 839.4 L1150.8 839.4 L1152.3 839.4 L1153.8 839.5 L1155.3 839.5 L1156.8 839.5 L1158.3 839.6 L1159.8 839.6 L1161.3 839.7 L1162.8 839.7 L1164.3 839.7 L1165.8 839.8 L1167.3 839.8 L1168.8 839.9 L1169.4 839.9 L1170.3 839.9 L1171.8 840.0 L1173.3 840.0 L1174.8 840.1 L1176.3 840.1 L1177.8 840.2 L1179.3 840.3 L1180.8 840.3 L1182.3 840.4 L1183.8 840.4 L1185.3 840.5 L1186.8 840.5 L1188.3 840.6 L1189.8 840.7 L1191.3 840.7 L1192.8 840.8 L1194.3 840.8 L1195.8 840.9 L1197.3 840.9 L1198.8 841.0 L1200.3 841.0 L1201.8 841.1 L1203.3 841.1 L1204.8 841.2 L1206.3 841.2 L1207.8 841.3 L1208.9 841.3 L1209.3 841.3 L1210.8 841.3 L1212.3 841.4 L1213.8 841.4 L1215.3 841.5 L1216.8 841.5 L1218.3 841.5 L1219.8 841.5 L1221.3 841.6 L1222.8 841.6 L1224.3 841.6 L1225.8 841.7 L1227.3 841.7 L1228.8 841.7 L1230.3 841.7 L1231.8 841.7 L1233.3 841.8 L1234.8 841.8 L1236.3 841.8 L1237.8 841.8 L1239.3 841.8 L1240.8 841.8 L1242.3 841.9 L1243.8 841.9 L1245.3 841.9 L1246.8 841.9 L1248.3 841.9 L1249.8 841.9 L1251.3 841.9 L1252.8 841.9 L1254.3 841.9 L1255.8 841.9 L1257.3 841.9 L1258.8 841.9 L1260.3 841.8 L1261.8 841.8 L1263.3 841.8 L1264.8 841.8 L1266.3 841.7 L1267.8 841.7 L1269.3 841.7 L1270.8 841.6 L1272.3 841.6 L1273.8 841.5 L1275.3 841.5 L1276.8 841.4 L1278.3 841.4 L1279.8 841.3 L1281.3 841.3 L1282.8 841.2 L1284.3 841.1 L1285.8 841.1 L1287.3 841.0 L1288.8 840.9 L1290.3 840.9 L1291.8 840.8 L1293.3 840.7 L1294.8 840.6 L1296.3 840.6 L1297.7 840.5 L1297.8 840.5 L1299.3 840.4 L1300.8 840.3 L1302.3 840.1 L1303.8 840.0 L1305.3 839.8 L1306.8 839.6 L1308.3 839.3 L1309.8 839.1 L1311.3 838.9 L1312.8 838.6 L1314.3 838.4 L1315.8 838.1 L1317.3 837.9 L1317.4 837.9 L1318.8 837.7 L1320.3 837.4 L1321.8 837.2 L1323.3 836.9 L1324.8 836.7 L1326.3 836.4 L1327.8 836.2 L1329.3 835.9 L1330.8 835.6 L1332.3 835.4 L1333.8 835.1 L1335.3 834.9 L1336.8 834.6 L1337.1 834.6 L1338.3 834.4 L1339.8 834.2 L1341.3 834.0 L1342.8 833.8 L1344.3 833.5 L1345.8 833.3 L1347.3 833.1 L1348.8 832.9 L1350.3 832.7 L1351.8 832.5 L1353.3 832.3 L1354.8 832.1 L1356.3 831.9 L1357.8 831.7 L1359.3 831.5 L1360.8 831.3 L1362.3 831.1 L1363.5 831.0" fill="none" stroke="#4444c4" stroke-width="2.7" stroke-linejoin="round"/>
<path d="M105.3 990.6 L106.8 990.5 L108.3 990.5 L109.8 990.4 L111.3 990.3 L112.8 990.3 L114.3 990.2 L115.8 990.1 L117.3 990.1 L118.8 990.0 L120.3 989.9 L121.8 989.9 L123.3 989.8 L124.8 989.7 L126.3 989.7 L127.8 989.6 L129.3 989.5 L130.8 989.5 L132.3 989.4 L133.8 989.4 L135.3 989.3 L136.8 989.2 L138.3 989.2 L139.8 989.1 L141.3 989.1 L142.8 989.0 L144.3 989.0 L145.8 988.9 L147.3 988.9 L148.8 988.8 L150.3 988.8 L151.8 988.7 L153.3 988.7 L154.8 988.7 L156.3 988.6 L157.8 988.6 L159.3 988.6 L160.8 988.5 L162.3 988.5 L163.8 988.5 L165.3 988.5 L166.8 988.5 L168.3 988.4 L169.8 988.4 L171.3 988.4 L172.8 988.4 L174.3 988.4 L175.8 988.4 L177.3 988.4 L178.8 988.4 L180.3 988.5 L181.8 988.5 L183.3 988.5 L184.8 988.5 L186.3 988.5 L187.8 988.6 L188.8 988.6 L189.3 988.6 L190.8 988.7 L192.3 988.7 L193.8 988.8 L195.3 988.8 L196.8 988.9 L198.3 989.0 L199.8 989.1 L201.3 989.1 L202.8 989.2 L204.3 989.3 L205.8 989.4 L207.3 989.5 L208.8 989.5 L210.3 989.6 L211.8 989.7 L213.3 989.7 L214.8 989.8 L215.0 989.8 L216.3 989.8 L217.8 989.9 L219.3 989.9 L220.8 990.0 L222.3 990.1 L223.8 990.1 L225.3 990.2 L226.8 990.2 L228.3 990.3 L229.8 990.3 L231.3 990.3 L232.8 990.4 L234.3 990.4 L235.8 990.5 L237.3 990.5 L238.8 990.5 L240.3 990.6 L241.8 990.6 L243.3 990.6 L244.8 990.6 L246.3 990.6 L247.8 990.6 L247.9 990.6 L249.3 990.6 L250.8 990.6 L252.3 990.6 L253.8 990.5 L255.3 990.5 L256.8 990.5 L258.3 990.5 L259.8 990.4 L261.3 990.4 L262.8 990.4 L264.3 990.3 L265.8 990.3 L267.3 990.2 L268.8 990.2 L270.3 990.1 L271.8 990.1 L273.3 990.0 L274.8 990.0 L276.3 989.9 L277.8 989.8 L279.3 989.8 L280.8 989.7 L282.3 989.6 L283.8 989.6 L285.3 989.5 L286.8 989.5 L288.3 989.4 L289.8 989.3 L291.3 989.3 L292.8 989.2 L294.3 989.1 L295.8 989.1 L297.3 989.0 L298.8 988.9 L300.3 988.9 L301.8 988.8 L303.3 988.7 L304.8 988.7 L306.3 988.6 L307.1 988.6 L307.8 988.6 L309.3 988.5 L310.8 988.5 L312.3 988.4 L313.8 988.3 L315.3 988.3 L316.8 988.2 L318.3 988.1 L319.8 988.1 L321.3 988.0 L322.8 987.9 L324.3 987.8 L325.8 987.7 L327.3 987.7 L328.8 987.6 L330.3 987.5 L331.8 987.4 L333.3 987.3 L334.8 987.2 L336.3 987.2 L337.8 987.1 L339.3 987.0 L340.8 986.9 L342.3 986.8 L343.8 986.7 L345.3 986.6 L346.8 986.5 L348.3 986.4 L349.8 986.3 L351.3 986.2 L351.5 986.2 L352.8 986.1 L354.3 985.8 L355.8 985.5 L357.3 985.1 L358.8 984.6 L360.3 984.1 L361.8 983.5 L363.3 982.9 L364.8 982.4 L366.3 981.8 L367.8 981.1 L369.3 980.2 L370.8 979.0 L372.3 977.6 L373.8 976.0 L375.3 974.2 L376.8 972.3 L378.3 970.2 L379.8 968.1 L380.5 967.0 L381.3 965.6 L382.8 962.4 L384.3 958.3 L385.8 953.6 L387.3 948.5 L388.8 943.1 L390.3 937.7 L391.6 933.0 L391.8 932.3 L393.3 926.5 L394.8 920.3 L396.3 913.8 L397.8 907.4 L399.3 901.5 L400.0 898.9 L400.8 896.2 L402.3 891.4 L403.7 887.1 L403.8 886.8 L405.3 881.9 L406.8 876.7 L408.3 871.4 L409.8 866.3 L411.3 861.5 L412.8 857.2 L414.3 853.7 L415.5 851.6 L415.8 851.2 L417.3 849.2 L418.8 847.5 L420.3 846.2 L421.8 845.3 L423.3 844.7 L424.8 844.6 L425.9 844.8 L426.3 844.9 L427.8 845.6 L429.3 846.6 L430.8 847.9 L432.3 849.5 L433.8 851.3 L435.3 853.3 L436.2 854.6 L436.8 855.5 L438.3 858.2 L439.8 861.3 L441.3 864.8 L442.8 868.4 L444.3 872.1 L445.8 875.9 L447.3 879.5 L448.0 881.2 L448.8 883.1 L450.3 886.7 L451.8 890.5 L453.3 894.3 L454.8 898.1 L456.3 901.9 L457.8 905.6 L459.3 909.1 L460.8 912.5 L462.3 915.7 L462.8 916.7 L463.8 918.7 L465.3 921.6 L466.8 924.4 L468.3 927.2 L469.8 929.8 L471.3 932.3 L472.8 934.6 L474.3 936.7 L475.8 938.5 L477.3 940.1 L477.6 940.4 L478.8 941.5 L480.3 942.9 L481.8 944.3 L483.3 945.6 L484.8 946.8 L486.3 947.9 L487.8 948.8 L489.3 949.6 L490.8 950.3 L492.3 950.7 L492.4 950.7 L493.8 951.0 L495.3 951.2 L496.8 951.5 L498.3 951.8 L499.8 952.1 L501.3 952.3 L502.8 952.6 L504.3 952.9 L505.8 953.1 L507.3 953.4 L508.8 953.6 L510.3 953.8 L511.8 954.1 L513.3 954.3 L514.8 954.5 L516.3 954.7 L517.8 954.8 L519.3 955.0 L520.8 955.2 L522.3 955.3 L523.8 955.4 L525.3 955.5 L526.8 955.6 L527.9 955.7 L528.3 955.7 L529.8 955.8 L531.3 955.9 L532.8 955.9 L534.3 956.0 L535.8 956.1 L537.3 956.2 L538.8 956.2 L540.3 956.3 L541.8 956.4 L543.3 956.5 L544.8 956.5 L546.3 956.6 L547.8 956.7 L549.3 956.7 L550.8 956.8 L552.3 956.9 L553.8 956.9 L555.3 957.0 L556.8 957.0 L558.3 957.1 L559.8 957.1 L561.3 957.1 L562.8 957.2 L563.4 957.2 L564.3 957.2 L565.8 957.2 L567.3 957.2 L568.8 957.2 L570.3 957.2 L571.8 957.1 L573.3 957.0 L574.8 957.0 L576.3 956.9 L577.8 956.8 L579.3 956.7 L580.0 956.6 L580.8 956.5 L582.3 956.1 L583.8 955.5 L585.3 954.8 L586.8 954.1 L588.3 953.3 L589.0 953.0 L589.8 952.6 L591.3 952.0 L592.8 951.2 L594.3 950.3 L595.0 949.9 L595.8 949.3 L597.3 947.9 L598.8 946.3 L600.3 944.6 L600.7 944.1 L601.8 942.8 L603.3 941.0 L604.8 938.9 L606.3 936.4 L606.5 936.1 L607.8 933.4 L609.3 929.5 L610.8 925.2 L612.2 921.1 L612.3 920.8 L613.8 916.4 L615.3 911.7 L616.8 906.2 L618.3 899.0 L619.7 891.3 L619.8 890.8 L621.3 882.6 L622.6 875.2 L622.8 874.1 L624.3 865.4 L625.5 857.9 L625.8 855.9 L627.3 844.7 L627.8 840.7 L628.8 832.4 L630.3 818.0 L631.8 798.8 L633.3 777.7 L634.0 769.0 L634.8 760.3 L636.3 745.3 L637.8 731.2 L639.3 716.6 L639.8 711.5 L640.8 700.4 L642.3 683.6 L642.8 678.7 L643.8 669.8 L645.3 657.1 L646.8 645.4 L648.3 635.2 L649.3 629.3 L649.8 626.5 L651.3 618.3 L652.8 610.7 L654.3 604.4 L655.8 599.9 L655.9 599.7 L657.3 596.9 L658.8 594.2 L660.3 592.2 L661.8 591.1 L662.5 591.0 L663.3 591.1 L664.8 592.1 L666.3 594.0 L667.8 596.5 L669.3 599.6 L670.7 603.0 L670.8 603.3 L672.3 608.3 L673.8 615.0 L675.3 623.0 L676.8 631.5 L678.3 640.1 L679.0 644.0 L679.8 648.4 L681.3 657.0 L682.8 666.0 L684.3 675.5 L685.0 680.0 L685.8 685.4 L687.3 696.3 L688.8 707.4 L690.0 716.0 L690.3 718.1 L691.8 728.7 L693.3 739.1 L694.8 748.8 L695.5 753.0 L696.3 757.5 L697.8 765.4 L699.3 772.8 L700.8 780.1 L702.3 787.2 L702.6 788.7 L703.8 794.6 L705.3 801.9 L706.8 808.8 L707.3 811.0 L708.3 815.3 L709.8 821.6 L711.3 827.8 L712.8 833.6 L714.3 839.0 L715.6 843.2 L715.8 843.8 L717.3 848.1 L718.8 852.1 L720.3 855.9 L721.8 859.5 L723.3 863.2 L723.4 863.4 L724.8 866.8 L726.3 870.5 L727.8 874.2 L729.3 877.8 L730.8 881.2 L732.3 884.3 L732.7 885.1 L733.8 887.2 L735.3 890.0 L736.8 892.6 L738.3 895.1 L739.8 897.4 L741.3 899.6 L742.0 900.6 L742.8 901.7 L744.3 903.6 L745.8 905.5 L747.3 907.2 L748.8 908.9 L749.7 909.9 L750.3 910.5 L751.8 912.1 L753.3 913.5 L754.4 914.5 L754.8 914.8 L756.3 915.9 L757.8 916.9 L759.3 917.9 L760.6 919.1 L760.8 919.3 L762.3 921.2 L763.8 923.4 L765.3 925.7 L766.8 928.0 L768.3 930.0 L769.8 931.7 L771.3 933.4 L772.8 935.1 L774.3 936.6 L775.8 938.1 L777.3 939.4 L778.8 940.6 L779.1 940.8 L780.3 941.7 L781.8 942.8 L783.3 943.9 L784.8 944.9 L786.3 945.8 L787.8 946.6 L789.3 947.3 L790.8 947.7 L791.5 947.8 L792.3 947.9 L793.8 948.0 L795.3 948.1 L796.8 948.2 L798.3 948.3 L799.8 948.3 L801.3 948.4 L802.8 948.5 L803.9 948.6 L804.3 948.6 L805.8 948.8 L807.3 948.9 L808.8 949.1 L810.3 949.2 L811.8 949.4 L813.3 949.6 L814.8 949.8 L816.3 950.1 L817.8 950.5 L819.3 950.9 L820.8 951.5 L822.3 952.1 L823.8 952.7 L825.3 953.3 L826.8 953.9 L827.2 954.0 L828.3 954.4 L829.8 954.9 L831.3 955.4 L832.8 955.9 L834.3 956.4 L835.8 956.9 L837.3 957.4 L838.8 958.0 L840.3 958.5 L841.8 959.1 L842.7 959.4 L843.3 959.6 L844.8 960.3 L846.3 961.0 L847.8 961.7 L849.3 962.4 L850.8 963.1 L852.3 963.9 L853.8 964.6 L855.3 965.2 L856.8 965.9 L858.2 966.4 L858.3 966.4 L859.8 967.0 L861.3 967.5 L862.8 968.0 L864.3 968.4 L865.8 968.9 L867.3 969.3 L868.8 969.8 L870.3 970.2 L871.8 970.5 L873.3 970.9 L873.7 971.0 L874.8 971.2 L876.3 971.6 L877.8 971.9 L879.3 972.2 L880.8 972.5 L882.3 972.8 L883.8 973.0 L885.3 973.3 L886.8 973.6 L888.3 973.9 L889.1 974.1 L889.8 974.3 L891.3 974.6 L892.8 975.0 L894.3 975.3 L895.8 975.7 L897.3 976.0 L898.8 976.3 L900.0 976.5 L900.3 976.5 L901.8 976.8 L903.3 977.0 L904.8 977.2 L906.3 977.5 L907.8 977.7 L909.3 977.9 L910.8 978.1 L912.3 978.3 L913.8 978.5 L915.3 978.7 L916.8 978.9 L918.3 979.1 L919.8 979.2 L921.3 979.4 L922.8 979.6 L924.3 979.8 L925.8 980.0 L927.3 980.1 L928.8 980.3 L930.3 980.5 L931.8 980.6 L933.3 980.8 L934.8 981.0 L936.3 981.1 L937.8 981.3 L939.3 981.4 L940.8 981.6 L942.3 981.8 L943.8 981.9 L945.3 982.1 L946.3 982.2 L946.8 982.3 L948.3 982.4 L949.8 982.6 L951.3 982.7 L952.8 982.9 L954.3 983.1 L955.8 983.2 L957.3 983.4 L958.8 983.6 L960.3 983.7 L961.8 983.9 L963.3 984.1 L964.8 984.2 L966.3 984.4 L967.8 984.5 L969.3 984.7 L970.8 984.8 L972.3 985.0 L973.8 985.1 L975.3 985.3 L976.8 985.4 L978.3 985.5 L979.8 985.6 L981.3 985.8 L982.8 985.9 L983.2 985.9 L984.3 986.0 L985.8 986.1 L987.3 986.2 L988.8 986.3 L990.3 986.4 L991.8 986.5 L993.3 986.7 L994.8 986.8 L996.3 986.9 L997.8 987.0 L999.3 987.1 L1000.8 987.2 L1002.3 987.3 L1003.8 987.5 L1005.3 987.6 L1006.8 987.7 L1008.3 987.8 L1009.8 987.8 L1011.3 987.9 L1012.8 988.0 L1014.3 988.1 L1015.8 988.2 L1017.3 988.2 L1018.8 988.3 L1020.3 988.3 L1021.8 988.4 L1023.3 988.4 L1024.8 988.4 L1026.3 988.4 L1027.8 988.4 L1029.3 988.4 L1030.8 988.4 L1032.3 988.4 L1032.5 988.4 L1033.8 988.4 L1035.3 988.3 L1036.8 988.3 L1038.3 988.2 L1039.8 988.2 L1041.3 988.1 L1042.8 988.1 L1044.3 988.0 L1045.8 987.9 L1047.3 987.9 L1048.8 987.8 L1050.3 987.7 L1051.8 987.6 L1053.3 987.5 L1054.8 987.5 L1056.3 987.4 L1057.8 987.3 L1059.3 987.2 L1060.8 987.1 L1062.3 987.0 L1063.8 986.9 L1065.3 986.8 L1066.8 986.7 L1068.3 986.7 L1069.8 986.6 L1071.3 986.5 L1072.8 986.4 L1074.3 986.3 L1075.8 986.2 L1077.3 986.1 L1078.8 986.1 L1080.3 986.0 L1081.8 985.9 L1083.3 985.8 L1084.8 985.7 L1086.3 985.7 L1087.8 985.6 L1089.3 985.5 L1090.8 985.4 L1092.3 985.3 L1093.8 985.2 L1095.3 985.2 L1096.8 985.1 L1098.3 985.0 L1099.8 984.9 L1101.3 984.8 L1102.8 984.7 L1104.3 984.6 L1105.8 984.5 L1107.3 984.5 L1108.8 984.4 L1110.3 984.3 L1111.8 984.2 L1113.3 984.1 L1114.8 984.1 L1116.3 984.0 L1117.8 983.9 L1119.3 983.8 L1120.8 983.8 L1122.3 983.7 L1123.8 983.6 L1125.3 983.6 L1126.8 983.5 L1128.3 983.5 L1129.8 983.4 L1131.3 983.4 L1132.8 983.3 L1134.3 983.3 L1135.0 983.3 L1135.8 983.3 L1137.3 983.3 L1138.8 983.3 L1140.3 983.4 L1141.8 983.5 L1143.3 983.6 L1144.8 983.8 L1146.3 983.9 L1147.8 984.0 L1149.3 984.2 L1150.8 984.3 L1152.3 984.5 L1153.8 984.6 L1155.3 984.7 L1156.8 984.8 L1158.3 984.9 L1159.6 984.9 L1159.8 984.9 L1161.3 984.9 L1162.8 984.9 L1164.3 984.8 L1165.8 984.7 L1167.3 984.5 L1168.8 984.4 L1170.3 984.2 L1171.8 984.0 L1173.3 983.9 L1174.8 983.7 L1176.3 983.5 L1177.8 983.3 L1179.3 983.1 L1180.8 983.0 L1182.3 982.8 L1183.8 982.7 L1185.3 982.6 L1186.8 982.5 L1188.3 982.5 L1189.2 982.5 L1189.8 982.5 L1191.3 982.6 L1192.8 982.7 L1194.3 982.9 L1195.8 983.1 L1197.3 983.4 L1198.8 983.6 L1200.3 983.9 L1201.8 984.1 L1203.3 984.4 L1204.8 984.6 L1206.3 984.7 L1207.8 984.9 L1208.9 984.9 L1209.3 984.9 L1210.8 984.9 L1212.3 984.9 L1213.8 984.9 L1215.3 984.9 L1216.8 984.8 L1218.3 984.7 L1219.8 984.6 L1221.3 984.6 L1222.8 984.5 L1224.3 984.4 L1225.8 984.3 L1227.3 984.2 L1228.8 984.1 L1230.3 984.0 L1231.8 984.0 L1233.3 983.9 L1234.8 983.9 L1236.3 983.9 L1237.8 983.9 L1238.5 983.9 L1239.3 983.9 L1240.8 984.0 L1242.3 984.1 L1243.8 984.2 L1245.3 984.3 L1246.8 984.5 L1248.3 984.7 L1249.8 984.8 L1251.3 985.0 L1252.8 985.1 L1254.3 985.2 L1255.8 985.3 L1257.3 985.4 L1258.2 985.4 L1258.8 985.4 L1260.3 985.4 L1261.8 985.3 L1263.3 985.2 L1264.8 985.1 L1266.3 984.9 L1267.8 984.7 L1269.3 984.5 L1270.8 984.2 L1272.3 984.0 L1273.8 983.7 L1275.3 983.5 L1276.8 983.2 L1278.3 983.0 L1279.8 982.8 L1281.3 982.5 L1282.8 982.3 L1284.3 982.2 L1285.8 982.0 L1287.3 981.9 L1287.8 981.9 L1288.8 981.9 L1290.3 981.9 L1291.8 982.1 L1293.3 982.3 L1294.8 982.6 L1296.3 983.0 L1297.8 983.3 L1299.3 983.7 L1300.8 984.0 L1302.3 984.3 L1303.8 984.6 L1305.3 984.8 L1306.8 984.9 L1307.5 984.9 L1308.3 984.9 L1309.8 984.6 L1311.3 984.2 L1312.8 983.7 L1314.3 983.0 L1315.8 982.3 L1317.3 981.5 L1318.8 980.7 L1320.3 980.0 L1321.8 979.3 L1323.3 978.7 L1324.8 978.3 L1326.3 978.0 L1327.2 978.0 L1327.8 978.0 L1329.3 978.3 L1330.8 978.8 L1332.3 979.4 L1333.8 980.1 L1335.3 980.8 L1336.8 981.3 L1338.3 981.8 L1339.1 981.9 L1339.8 982.0 L1341.3 982.1 L1342.8 982.1 L1344.3 982.1 L1345.8 982.0 L1347.3 981.8 L1348.8 981.6 L1350.3 981.4 L1351.8 981.1 L1353.3 980.8 L1354.8 980.5 L1356.3 980.1 L1357.8 979.7 L1359.3 979.2 L1360.8 978.8 L1362.3 978.4 L1363.5 978.0" fill="none" stroke="#ec58d8" stroke-width="2.7" stroke-linejoin="round"/>
<line x1="271.6" y1="444.4" x2="367.7" y2="444.4" stroke="#6a6a6a" stroke-width="2.6"/>
<polygon points="367.7,440.2 384.7,442.79999999999995 384.7,446.0 367.7,448.59999999999997" fill="#111"/>
<line x1="540" y1="441.3" x2="443.9" y2="441.3" stroke="#6a6a6a" stroke-width="2.6"/>
<polygon points="443.9,437.1 426.9,439.7 426.9,442.90000000000003 443.9,445.5" fill="#111"/>
<line x1="511.6" y1="141.8" x2="607.2" y2="141.8" stroke="#6a6a6a" stroke-width="2.6"/>
<polygon points="607.2,137.60000000000002 624.2,140.20000000000002 624.2,143.4 607.2,146.0" fill="#111"/>
<line x1="775.7" y1="141.8" x2="681.0" y2="141.8" stroke="#6a6a6a" stroke-width="2.6"/>
<polygon points="681.0,137.60000000000002 664.0,140.20000000000002 664.0,143.4 681.0,146.0" fill="#111"/>
<line x1="866.3" y1="299.3" x2="771.1" y2="299.3" stroke="#6a6a6a" stroke-width="2.6"/>
<polygon points="771.1,295.1 754.1,297.7 754.1,300.90000000000003 771.1,303.5" fill="#111"/>
<text x="360.9" y="436.7" text-anchor="end" font-size="32.8" font-family="'Liberation Sans', Arial, sans-serif" fill="#333">2089</text>
<text x="529.0" y="434.6" text-anchor="end" font-size="32.8" font-family="'Liberation Sans', Arial, sans-serif" fill="#333">2072</text>
<text x="595.3" y="135.1" text-anchor="end" font-size="32.8" font-family="'Liberation Sans', Arial, sans-serif" fill="#333">1994</text>
<text x="766.7" y="135.1" text-anchor="end" font-size="32.8" font-family="'Liberation Sans', Arial, sans-serif" fill="#333">1978</text>
<text x="856.4" y="291.2" text-anchor="end" font-size="32.8" font-family="'Liberation Sans', Arial, sans-serif" fill="#333">1941</text>
<text x="1295.0" y="550.3" text-anchor="end" font-size="42.7" font-family="'Liberation Sans', Arial, sans-serif" fill="#262626">1Pd</text>
<text x="1336.4" y="682.4" text-anchor="end" font-size="42.7" font-family="'Liberation Sans', Arial, sans-serif" fill="#262626">1Pd1Zn</text>
<text x="1336.0" y="830" text-anchor="end" font-size="42.7" font-family="'Liberation Sans', Arial, sans-serif" fill="#262626">1Pd3Zn</text>
<text x="1341.9" y="968.1" text-anchor="end" font-size="42.7" font-family="'Liberation Sans', Arial, sans-serif" fill="#262626">1Pd5Zn</text>
<text x="0" y="0" transform="translate(58.6,724.9) rotate(-90)" font-size="51" font-family="'Liberation Sans', Arial, sans-serif" fill="#000">Intensity (a.u.)</text>
<text y="1183.6" font-size="51.5" font-family="'Liberation Sans', Arial, sans-serif" fill="#000"><tspan x="516.4">wavenumber</tspan><tspan x="821.3">(</tspan><tspan x="838.8">cm</tspan><tspan x="906.9" y="1158.5" font-size="32">-1</tspan><tspan x="937.4" y="1183.6">)</tspan></text>
</svg>
</body></html>
